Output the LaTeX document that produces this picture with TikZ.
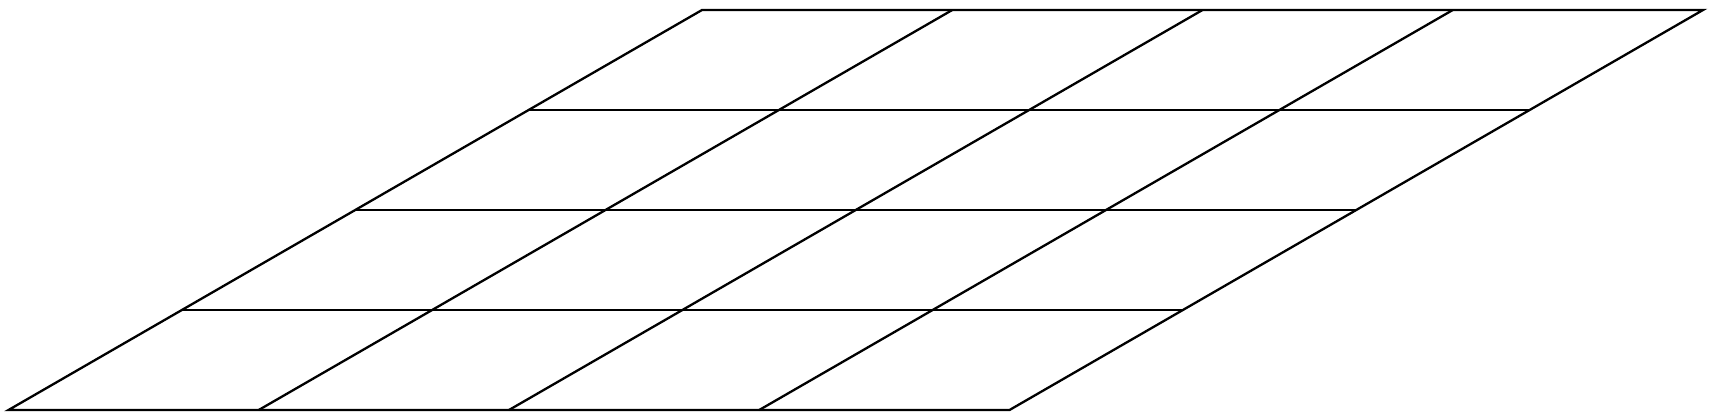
\documentclass[tikz,border=0pt]{standalone}
\usetikzlibrary{calc}
\begin{document}
\begin{tikzpicture}[x=1pt,y=-1pt, gridline/.style={line width=2.3pt, black}]
\useasboundingbox (0,0) rectangle (1713,420);
\coordinate (A) at (8.5,410);
\coordinate (B) at (1009.5,410);
\coordinate (C) at (1703,10);
\coordinate (D) at (702,10);
\foreach \i in {1,2,3} {
  \draw[gridline] ($(A)!\i/4!(D)$) -- ($(B)!\i/4!(C)$);
  \draw[gridline] ($(A)!\i/4!(B)$) -- ($(D)!\i/4!(C)$);
}
\draw[gridline] (A) -- (B) -- (C) -- (D) -- cycle;
\end{tikzpicture}
\end{document}
